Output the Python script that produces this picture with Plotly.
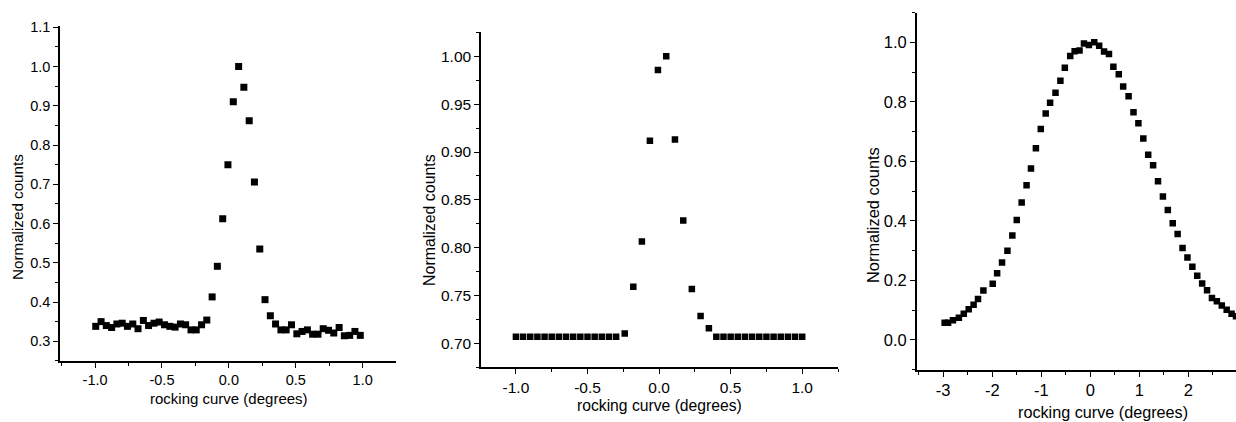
import plotly.graph_objects as go

# ---------------- data ----------------
# Panel 1
p1_x = [-0.995, -0.955, -0.916, -0.876, -0.837, -0.797, -0.758, -0.718, -0.679, -0.639,
        -0.600, -0.560, -0.521, -0.481, -0.441, -0.402, -0.362, -0.323, -0.283, -0.244,
        -0.204, -0.165, -0.125, -0.086, -0.046, -0.007, 0.033, 0.073, 0.112, 0.152,
        0.191, 0.231, 0.270, 0.310, 0.349, 0.389, 0.428, 0.468, 0.508, 0.547,
        0.587, 0.626, 0.666, 0.705, 0.745, 0.784, 0.824, 0.863, 0.903, 0.942, 0.982]
p1_y = [0.338, 0.350, 0.340, 0.335, 0.344, 0.346, 0.338, 0.344, 0.332, 0.353,
        0.340, 0.346, 0.349, 0.342, 0.338, 0.336, 0.344, 0.342, 0.329, 0.329,
        0.342, 0.354, 0.413, 0.491, 0.612, 0.750, 0.910, 1.000, 0.947, 0.862,
        0.706, 0.535, 0.406, 0.365, 0.344, 0.329, 0.329, 0.342, 0.319, 0.325,
        0.329, 0.318, 0.318, 0.332, 0.328, 0.321, 0.335, 0.314, 0.315, 0.325, 0.315]

# Panel 2
p2_x = [-1.00, -0.95, -0.90, -0.85, -0.80, -0.75, -0.70, -0.65, -0.60, -0.55,
        -0.50, -0.45, -0.40, -0.35, -0.30,
        -0.240, -0.180, -0.120, -0.064, -0.008, 0.050, 0.111, 0.169, 0.229, 0.290, 0.348,
        0.40, 0.45, 0.50, 0.55, 0.60, 0.65, 0.70, 0.75, 0.80, 0.85, 0.90, 0.95, 1.00]
p2_y = [0.707, 0.707, 0.707, 0.707, 0.707, 0.707, 0.707, 0.707, 0.707, 0.707,
        0.707, 0.707, 0.707, 0.707, 0.707,
        0.7106, 0.7593, 0.8066, 0.9119, 0.9856, 1.000, 0.9132, 0.8286, 0.7569, 0.7288, 0.7161,
        0.707, 0.707, 0.707, 0.707, 0.707, 0.707, 0.707, 0.707, 0.707, 0.707, 0.707, 0.707, 0.707]

# Panel 3
p3_x = [-2.97, -2.90, -2.80, -2.68, -2.58, -2.48, -2.38, -2.29, -2.18, -1.99,
        -1.90, -1.80, -1.69, -1.59, -1.50, -1.40, -1.30, -1.21, -1.11, -1.01,
        -0.91, -0.82, -0.71, -0.61, -0.52, -0.41, -0.32, -0.22, -0.13, -0.03,
        0.08, 0.18, 0.28, 0.38, 0.47, 0.58, 0.67, 0.78, 0.88, 0.98,
        1.08, 1.18, 1.28, 1.38, 1.48, 1.58, 1.68, 1.78, 1.88, 1.98,
        2.08, 2.18, 2.28, 2.38, 2.48, 2.58, 2.68, 2.78, 2.88, 2.97]
p3_y = [0.058, 0.058, 0.066, 0.075, 0.088, 0.103, 0.118, 0.138, 0.166, 0.189,
        0.224, 0.260, 0.300, 0.351, 0.403, 0.462, 0.520, 0.576, 0.644, 0.709,
        0.761, 0.797, 0.831, 0.871, 0.915, 0.954, 0.970, 0.973, 0.996, 0.991,
        1.000, 0.989, 0.969, 0.961, 0.918, 0.893, 0.852, 0.819, 0.765, 0.728,
        0.677, 0.622, 0.587, 0.533, 0.482, 0.437, 0.392, 0.356, 0.309, 0.277,
        0.246, 0.216, 0.190, 0.167, 0.141, 0.130, 0.116, 0.102, 0.088, 0.080]

# tick labels
p1_xticks = [-1.0, -0.5, 0.0, 0.5, 1.0]
p1_xlabels = ["-1.0", "-0.5", "0.0", "0.5", "1.0"]
p1_yticks = [0.3, 0.4, 0.5, 0.6, 0.7, 0.8, 0.9, 1.0, 1.1]
p1_ylabels = ["0.3", "0.4", "0.5", "0.6", "0.7", "0.8", "0.9", "1.0", "1.1"]

p2_xticks = [-1.0, -0.5, 0.0, 0.5, 1.0]
p2_xlabels = ["-1.0", "-0.5", "0.0", "0.5", "1.0"]
p2_yticks = [0.70, 0.75, 0.80, 0.85, 0.90, 0.95, 1.00]
p2_ylabels = ["0.70", "0.75", "0.80", "0.85", "0.90", "0.95", "1.00"]

p3_xticks = [-3, -2, -1, 0, 1, 2]
p3_xlabels = ["-3", "-2", "-1", "0", "1", "2"]
p3_yticks = [0.0, 0.2, 0.4, 0.6, 0.8, 1.0]
p3_ylabels = ["0.0", "0.2", "0.4", "0.6", "0.8", "1.0"]

x_title = "rocking curve (degrees)"
y_title = "Normalized counts"

# ---------------- figure ----------------
W, H = 1236, 422
FONT = "Liberation Sans, Arial, sans-serif"

fig = go.Figure()
marker = dict(symbol="square", color="black", size=7, line=dict(width=0))
fig.add_trace(go.Scatter(x=p1_x, y=p1_y, mode="markers", marker=marker, xaxis="x", yaxis="y"))
fig.add_trace(go.Scatter(x=p2_x, y=p2_y, mode="markers", marker=dict(marker, size=6.5), xaxis="x2", yaxis="y2"))
fig.add_trace(go.Scatter(x=p3_x, y=p3_y, mode="markers", marker=dict(marker, size=6.5), xaxis="x3", yaxis="y3"))


def ax(domain, rng, tv, tt, minor_dtick, anchor, fsize):
    return dict(
        domain=domain, range=rng, anchor=anchor,
        tickmode="array", tickvals=tv, ticktext=tt,
        ticks="outside", ticklen=5, tickwidth=1.3, tickcolor="black",
        minor=dict(ticks="outside", ticklen=3, tickwidth=1, tickcolor="black",
                   tickmode="linear", tick0=0, dtick=minor_dtick),
        showline=True, linecolor="black", linewidth=1.5,
        showgrid=False, zeroline=False, mirror=False,
        tickfont=dict(family=FONT, size=fsize, color="black"),
    )


def px_x(p):
    return p / W


def px_y(p):
    return (H - p) / H


fig.update_layout(
    width=W, height=H,
    margin=dict(l=0, r=0, t=0, b=0),
    paper_bgcolor="white", plot_bgcolor="white",
    showlegend=False,
    xaxis=ax([px_x(60), px_x(396)], [-1.262, 1.249], p1_xticks, p1_xlabels, 0.25, "y", 14.5),
    yaxis=ax([px_y(360), px_y(20)], [0.25, 1.104], p1_yticks, p1_ylabels, 0.05, "x", 14.5),
    xaxis2=ax([px_x(481), px_x(838)], [-1.244, 1.25], p2_xticks, p2_xlabels, 0.25, "y2", 15.5),
    yaxis2=ax([px_y(366.7), px_y(26.7)], [0.675, 1.025], p2_yticks, p2_ylabels, 0.025, "x2", 15.5),
    xaxis3=ax([px_x(916.7), 1.0], [-3.54, 2.97], p3_xticks, p3_xlabels, 0.5, "y3", 16.5),
    yaxis3=ax([px_y(369), px_y(6.7)], [-0.1, 1.1], p3_yticks, p3_ylabels, 0.1, "x3", 16.5),
)

titles = [
    # (text, x px, y px, angle, size)
    (x_title, 228.8, 398, 0, 15),
    (y_title, 18, 214, -90, 15.2),
    (x_title, 659, 405, 0, 15.7),
    (y_title, 430, 217, -90, 15.9),
    (x_title, 1103, 412, 0, 16.2),
    (y_title, 873, 212, -90, 16.4),
]
for text, xp, yp, ang, fs in titles:
    fig.add_annotation(
        text=text, x=px_x(xp), y=px_y(yp), xref="paper", yref="paper",
        xanchor="center", yanchor="middle", showarrow=False, textangle=ang,
        font=dict(family=FONT, size=fs, color="black"),
    )

fig.write_html(
    "out.html",
    config={"displayModeBar": False},
    post_script="document.body.style.margin='0px';document.body.style.overflow='hidden';",
)
